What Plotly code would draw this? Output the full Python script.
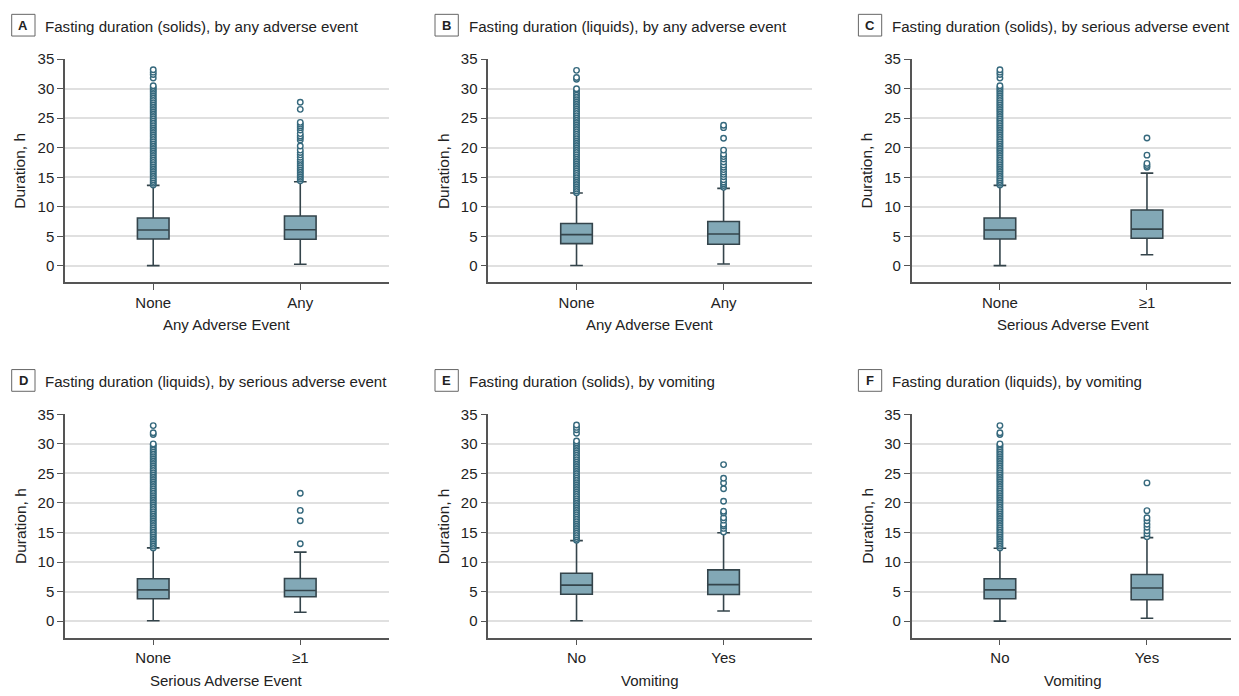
import plotly.graph_objects as go

# page offset of the figure inside the browser window (body margin etc.)
OX, OY = 8, 15
W, H = 1239 - OX, 696 - OY

# ---------------- data ----------------
cats_any = ["None", "Any"]
cats_sae = ["None", "≥1"]
cats_vom = ["No", "Yes"]

panel_letters = ["A", "B", "C", "D", "E", "F"]
panel_titles = [
    "Fasting duration (solids), by any adverse event",
    "Fasting duration (liquids), by any adverse event",
    "Fasting duration (solids), by serious adverse event",
    "Fasting duration (liquids), by serious adverse event",
    "Fasting duration (solids), by vomiting",
    "Fasting duration (liquids), by vomiting",
]
x_titles = ["Any Adverse Event", "Any Adverse Event", "Serious Adverse Event",
            "Serious Adverse Event", "Vomiting", "Vomiting"]
y_title = "Duration, h"

# box statistics per panel: [first category, second category]
q1_A = [4.56, 4.51]; med_A = [6.07, 6.12]; q3_A = [8.12, 8.46]; lo_A = [0.05, 0.28]; hi_A = [13.63, 14.25]
q1_B = [3.78, 3.67]; med_B = [5.29, 5.40]; q3_B = [7.18, 7.51]; lo_B = [0.06, 0.33]; hi_B = [12.35, 13.13]
q1_C = [4.56, 4.67]; med_C = [6.07, 6.23]; q3_C = [8.12, 9.46]; lo_C = [0.05, 1.89]; hi_C = [13.63, 15.70]
q1_D = [3.78, 4.12]; med_D = [5.29, 5.18]; q3_D = [7.18, 7.23]; lo_D = [0.06, 1.50]; hi_D = [12.40, 11.69]
q1_E = [4.56, 4.51]; med_E = [6.10, 6.18]; q3_E = [8.12, 8.68]; lo_E = [0.06, 1.73]; hi_E = [13.63, 14.97]
q1_F = [3.78, 3.62]; med_F = [5.29, 5.62]; q3_F = [7.18, 7.90]; lo_F = [0.00, 0.50]; hi_F = [12.35, 14.13]

# outliers
out_solids_none = [13.7, 14.0, 14.3, 14.6, 14.9, 15.2, 15.5, 15.8, 16.1, 16.4, 16.7, 17.0,
                   17.3, 17.6, 17.9, 18.2, 18.5, 18.8, 19.1, 19.4, 19.7, 20.0, 20.3, 20.6,
                   20.9, 21.2, 21.5, 21.8, 22.1, 22.4, 22.7, 23.0, 23.3, 23.6, 23.9, 24.2,
                   24.5, 24.8, 25.1, 25.4, 25.7, 26.0, 26.3, 26.6, 26.9, 27.2, 27.5, 27.8,
                   28.1, 28.4, 28.7, 29.0, 29.3, 29.6, 29.9, 30.2, 30.5, 31.8, 32.4, 32.8, 33.2]
out_liquids_none = [12.4, 12.7, 13.0, 13.3, 13.6, 13.9, 14.2, 14.5, 14.8, 15.1, 15.4, 15.7,
                    16.0, 16.3, 16.6, 16.9, 17.2, 17.5, 17.8, 18.1, 18.4, 18.7, 19.0, 19.3,
                    19.6, 19.9, 20.2, 20.5, 20.8, 21.1, 21.4, 21.7, 22.0, 22.3, 22.6, 22.9,
                    23.2, 23.5, 23.8, 24.1, 24.4, 24.7, 25.0, 25.3, 25.6, 25.9, 26.2, 26.5,
                    26.8, 27.1, 27.4, 27.7, 28.0, 28.3, 28.6, 28.9, 29.2, 29.5, 29.8, 30.0,
                    31.6, 31.9, 33.1]
out_A_any = [14.4, 14.7, 15.0, 15.3, 15.6, 15.9, 16.2, 16.5, 16.8, 17.1, 17.4, 17.7, 18.0,
             18.4, 18.8, 19.2, 19.6, 20.3, 21.3, 21.7, 22.0, 22.4, 23.0, 23.4, 23.7, 24.0,
             24.3, 26.5, 27.7]
out_B_any = [13.3, 13.6, 13.9, 14.2, 14.6, 15.1, 15.5, 15.9, 16.3, 16.7, 17.1, 17.6, 18.1,
             18.5, 18.9, 19.6, 21.6, 23.4, 23.8]
out_C_sae = [16.7, 17.0, 17.35, 18.75, 21.65]
out_D_sae = [13.1, 17.0, 18.75, 21.65]
out_E_yes = [15.1, 15.7, 16.1, 16.4, 17.1, 17.5, 18.3, 18.6, 20.3, 22.4, 23.4, 24.2, 26.5]
out_F_yes = [14.3, 14.8, 15.3, 15.9, 16.4, 17.0, 17.5, 18.7, 23.4]

y_ticks = [0, 5, 10, 15, 20, 25, 30, 35]

panels = [
    (cats_any, q1_A, med_A, q3_A, lo_A, hi_A, [out_solids_none, out_A_any]),
    (cats_any, q1_B, med_B, q3_B, lo_B, hi_B, [out_liquids_none, out_B_any]),
    (cats_sae, q1_C, med_C, q3_C, lo_C, hi_C, [out_solids_none, out_C_sae]),
    (cats_sae, q1_D, med_D, q3_D, lo_D, hi_D, [out_liquids_none, out_D_sae]),
    (cats_vom, q1_E, med_E, q3_E, lo_E, hi_E, [out_solids_none, out_E_yes]),
    (cats_vom, q1_F, med_F, q3_F, lo_F, hi_F, [out_liquids_none, out_F_yes]),
]

# ---------------- layout geometry (window pixels) ----------------
col_left = [65, 488.3, 911.7]
plot_w = 323.5
row_top = [57.7, 417.7]
plot_h = 226.3

FONT = "Liberation Sans, Arial, sans-serif"
TXT = "#222222"
BOX_FILL = "#82a8b6"
BOX_LINE = "#34444b"
PT_COLOR = "#36697d"
AXIS_COL = "#555555"
GRID_COL = "#e0e0e0"


def px(x):
    return (x - OX) / W


def py(y):
    return 1 - (y - OY) / H


fig = go.Figure()
layout = dict(
    width=W, height=H, autosize=False,
    margin=dict(l=0, r=0, t=0, b=0),
    paper_bgcolor="white", plot_bgcolor="white",
    showlegend=False,
    font=dict(family=FONT, color=TXT, size=15),
)
annotations = []
shapes = []

for i, (cats, q1, med, q3, lo, hi, outs) in enumerate(panels):
    r, c = divmod(i, 3)
    n = i + 1
    xa = "x" if n == 1 else f"x{n}"
    ya = "y" if n == 1 else f"y{n}"
    fig.add_trace(go.Box(
        x=cats, q1=q1, median=med, q3=q3, lowerfence=lo, upperfence=hi,
        xaxis=xa, yaxis=ya, width=0.215, whiskerwidth=0.4,
        fillcolor=BOX_FILL, line=dict(color=BOX_LINE, width=1.6),
        boxpoints=False, hoverinfo="skip",
    ))
    for cat, vals in zip(cats, outs):
        fig.add_trace(go.Scatter(
            x=[cat] * len(vals), y=vals, mode="markers", xaxis=xa, yaxis=ya,
            marker=dict(symbol="circle", size=5.5, color="white",
                        line=dict(color=PT_COLOR, width=1.4)),
            hoverinfo="skip",
        ))

    x0 = col_left[c]
    y0 = row_top[r]
    xkey = "xaxis" if n == 1 else f"xaxis{n}"
    ykey = "yaxis" if n == 1 else f"yaxis{n}"
    layout[xkey] = dict(
        domain=[px(x0), min(1.0, px(x0 + plot_w))], anchor=ya,
        type="category", categoryorder="array", categoryarray=cats,
        range=[-0.6, 1.6], showgrid=False, zeroline=False,
        showline=True, linecolor=AXIS_COL, linewidth=1.5,
        ticks="outside", ticklen=6, tickcolor=AXIS_COL, tickwidth=1.3,
        tickfont=dict(size=15, color=TXT, family=FONT), fixedrange=True,
    )
    layout[ykey] = dict(
        domain=[py(y0 + plot_h), py(y0)], anchor=xa,
        range=[-2.8, 35], tickvals=y_ticks, showgrid=True,
        gridcolor=GRID_COL, gridwidth=1.6, zeroline=False,
        showline=True, linecolor=AXIS_COL, linewidth=1.5,
        ticks="outside", ticklen=6, tickcolor=AXIS_COL, tickwidth=1.3,
        tickfont=dict(size=15, color=TXT, family=FONT), fixedrange=True,
    )

    # panel letter box + title
    box_x0 = x0 - 53.3
    box_y0 = y0 - 45.4
    shapes.append(dict(type="rect", xref="paper", yref="paper",
                       x0=px(box_x0), x1=px(box_x0 + 23.3),
                       y0=py(box_y0 + 22), y1=py(box_y0),
                       line=dict(color="#666666", width=1), fillcolor="white"))
    annotations.append(dict(text=f"<b>{panel_letters[i]}</b>", xref="paper", yref="paper",
                            x=px(box_x0 + 11.65), y=py(box_y0 + 11.3),
                            xanchor="center", yanchor="middle", showarrow=False,
                            font=dict(size=13, color=TXT, family=FONT)))
    annotations.append(dict(text=panel_titles[i], xref="paper", yref="paper",
                            x=px(box_x0 + 31.5), y=py(box_y0 + 12.5),
                            xanchor="left", yanchor="middle", showarrow=False,
                            font=dict(size=15.1, color=TXT, family=FONT)))
    # axis titles
    annotations.append(dict(text=x_titles[i], xref="paper", yref="paper",
                            x=px(x0 + plot_w / 2), y=py(y0 + plot_h + 43),
                            xanchor="center", yanchor="middle", showarrow=False,
                            font=dict(size=15, color=TXT, family=FONT)))
    annotations.append(dict(text=y_title, xref="paper", yref="paper",
                            x=px(x0 - 45), y=py(y0 + plot_h / 2),
                            xanchor="center", yanchor="middle", showarrow=False,
                            textangle=-90,
                            font=dict(size=15.5, color=TXT, family=FONT)))

layout["annotations"] = annotations
layout["shapes"] = shapes
fig.update_layout(**layout)
fig.write_html("out.html")
